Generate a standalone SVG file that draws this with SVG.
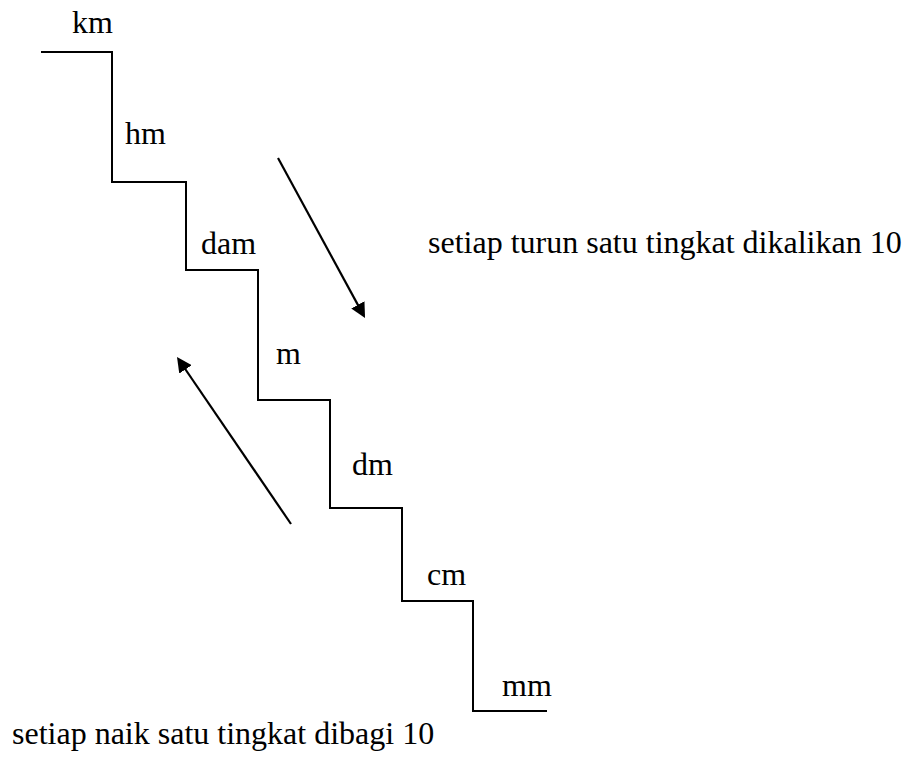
<svg xmlns="http://www.w3.org/2000/svg" width="910" height="761" viewBox="0 0 910 761">
  <defs>
    <marker id="head" viewBox="0 0 15 15" refX="12" refY="7.5" markerWidth="15" markerHeight="15" markerUnits="userSpaceOnUse" orient="auto">
      <path d="M0,0 L15,7.5 L0,15 z" fill="#000"/>
    </marker>
  </defs>
  <rect width="910" height="761" fill="#fff"/>
  <g id="stairs">
    <path fill="none" stroke="#000" stroke-width="2" d="M41,52 H112 V182 H186 V270 H258 V400 H330 V508 H402 V601 H473 V711 H547"/>
  </g>
  <g id="node-km"><text x="72" y="33" style="font-family:'Liberation Serif','Times New Roman',serif;font-size:32px">km</text></g>
  <g id="node-hm"><text x="125" y="144" style="font-family:'Liberation Serif','Times New Roman',serif;font-size:32px">hm</text></g>
  <g id="node-dam"><text x="201" y="254" style="font-family:'Liberation Serif','Times New Roman',serif;font-size:32px">dam</text></g>
  <g id="node-m"><text x="276" y="364" style="font-family:'Liberation Serif','Times New Roman',serif;font-size:32px">m</text></g>
  <g id="node-dm"><text x="352" y="475" style="font-family:'Liberation Serif','Times New Roman',serif;font-size:32px">dm</text></g>
  <g id="node-cm"><text x="427" y="585" style="font-family:'Liberation Serif','Times New Roman',serif;font-size:32px">cm</text></g>
  <g id="node-mm"><text x="502" y="696" style="font-family:'Liberation Serif','Times New Roman',serif;font-size:32px">mm</text></g>
  <g id="note-down"><text x="428" y="253" style="font-family:'Liberation Serif','Times New Roman',serif;font-size:32px">setiap turun satu tingkat dikalikan 10</text></g>
  <g id="note-up"><text x="12" y="744" style="font-family:'Liberation Serif','Times New Roman',serif;font-size:32px">setiap naik satu tingkat dibagi 10</text></g>
  <g id="connectors" stroke="#000" stroke-width="2.2" fill="none">
    <line x1="278" y1="158" x2="363.6" y2="315.4" marker-end="url(#head)"/>
    <line x1="291" y1="524" x2="178.7" y2="359.5" marker-end="url(#head)"/>
  </g>
</svg>
